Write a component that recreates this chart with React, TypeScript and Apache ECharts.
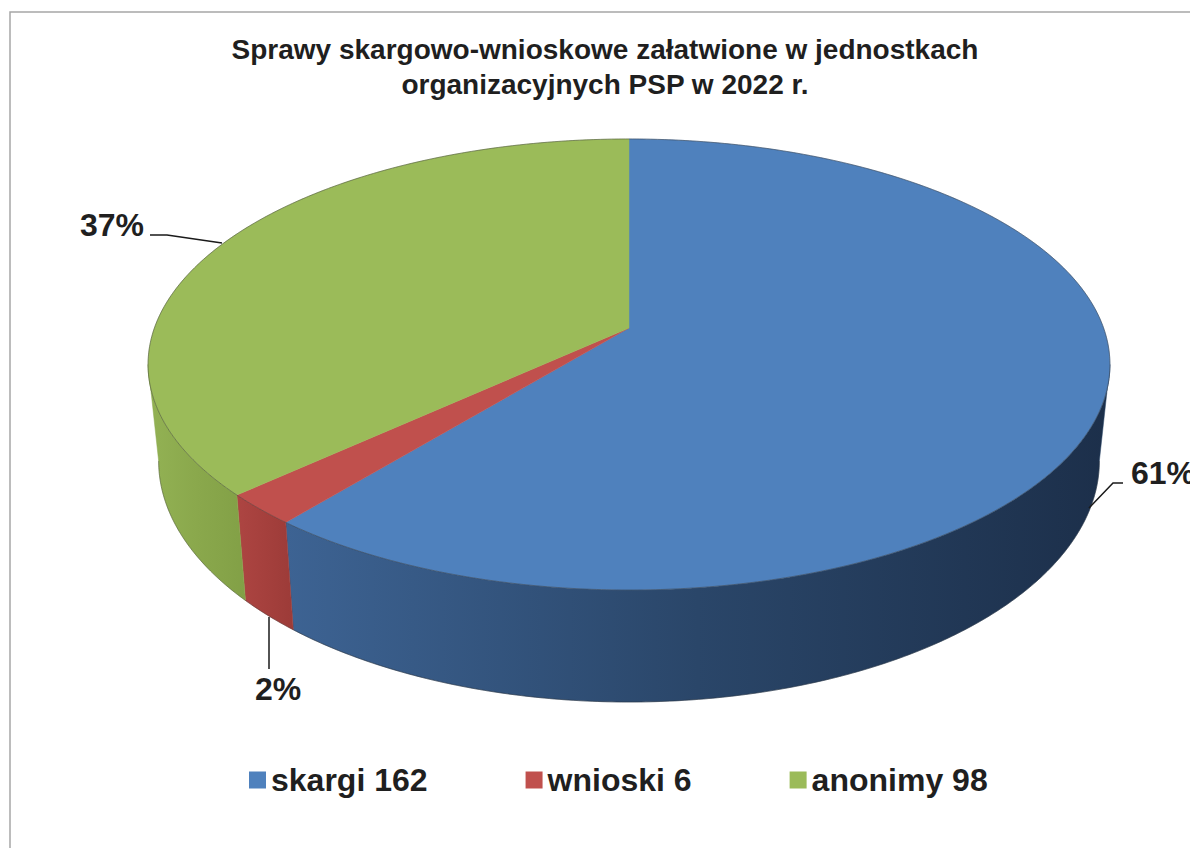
import React, { useEffect, useRef } from 'react';
import * as echarts from 'echarts';

// ---- data ----
const categories: string[] = ['skargi', 'wnioski', 'anonimy'];
const values: number[] = [162, 6, 98];
const titleLines: string[] = ['Sprawy skargowo-wnioskowe załatwione w jednostkach', 'organizacyjnych PSP w 2022 r.'];

// ---- styles ----
const topColors = ['#4f81bd', '#c0504d', '#9bbb59'];
const wallStops: [string, string, string][] = [
  ['#3d6393', '#2a4669', '#1c2f4a'],
  ['#ad4542', '#a5403d', '#9c3b38'],
  ['#93b254', '#8aa84c', '#82a046'],
];
const FONT = "'Liberation Sans', Arial, Helvetica, sans-serif";

// ---- 3D projection geometry (layout only) ----
const CX = 629, CY = 328, A = 474.6, B = 219.6, K = 0.1618, H = 93.9, BOT_SCALE = 0.978;
const SIL_R = (Math.acos(-K) * 180) / Math.PI; // ~99.3
const SIL_L = 360 - SIL_R; // ~260.7

// label placement (layout only)
const labelLayout = [
  { x: 1131, y: 473, line: [[1123, 483], [1113, 483], [1089, 508]] },
  { x: 255, y: 689, line: [[269, 617], [269, 669]] },
  { x: 80, y: 225, line: [[150, 235], [167, 235], [222, 243]] },
];

function proj(theta: number, down: boolean): number[] {
  const r = (theta * Math.PI) / 180;
  const u = Math.sin(r);
  const v = -Math.cos(r);
  const w = 1 - K * v;
  const sx = down ? BOT_SCALE : 1;
  return [CX + (A * sx * u) / w, CY + (B * v) / w + (down ? H / w : 0)];
}

function arc(a: number, b: number, down: boolean): number[][] {
  const n = Math.max(2, Math.ceil((b - a) / 0.5));
  const pts: number[][] = [];
  for (let i = 0; i <= n; i++) pts.push(proj(a + ((b - a) * i) / n, down));
  return pts;
}

export default function App() {
  const ref = useRef<HTMLDivElement>(null);
  useEffect(() => {
    if (!ref.current) return;
    const chart = echarts.init(ref.current, null, { renderer: 'svg' });
    const total = values.reduce((s, v) => s + v, 0);
    let acc = 0;
    const ranges = values.map((v) => {
      const s = (acc / total) * 360;
      acc += v;
      return [s, (acc / total) * 360];
    });

    const series = categories.map((c, i) => ({
      type: 'custom',
      name: `${c} ${values[i]}`,
      coordinateSystem: 'none',
      itemStyle: { color: topColors[i] },
      data: [ranges[i]],
      renderItem: (params: any, api: any) => {
        const s = api.value(0) as number;
        const e = api.value(1) as number;
        const children: any[] = [];
        const a = Math.max(s, SIL_R);
        const b = Math.min(e, SIL_L);
        if (b > a) {
          const top = arc(a, b, false);
          const bot = arc(a, b, true).reverse();
          const st = wallStops[i];
          children.push({
            type: 'polygon',
            z2: 1,
            shape: { points: top.concat(bot) },
            style: {
              fill: {
                type: 'linear', x: 0, y: 0, x2: 1, y2: 0,
                colorStops: [
                  { offset: 0, color: st[0] },
                  { offset: 0.5, color: st[1] },
                  { offset: 1, color: st[2] },
                ],
              },
              stroke: st[1],
              lineWidth: 0.5,
            },
          });
          children.push({
            type: 'polyline',
            z2: 2,
            shape: { points: arc(a, b, true) },
            style: { stroke: 'rgba(40,40,40,0.35)', lineWidth: 1, fill: 'none' },
          });
        }
        children.push({
          type: 'polygon',
          z2: 5,
          shape: { points: [[CX, CY]].concat(arc(s, e, false)) },
          style: { fill: topColors[i], stroke: topColors[i], lineWidth: 0.5 },
        });
        children.push({
          type: 'polyline',
          z2: 6,
          shape: { points: arc(s, e, false) },
          style: { stroke: 'rgba(50,50,50,0.45)', lineWidth: 1, fill: 'none' },
        });
        return { type: 'group', children };
      },
    }));

    const graphics: any[] = [
      {
        type: 'rect',
        shape: { x: 10, y: 12, width: 1300, height: 1000 },
        style: { fill: 'none', stroke: '#a6a6a6', lineWidth: 1.5 },
        silent: true,
      },
      ...titleLines.map((t, k) => ({
        type: 'text',
        x: 605,
        y: 49 + k * 35,
        style: {
          text: t,
          fontSize: 28,
          fontWeight: 'bold',
          fontFamily: FONT,
          fill: '#1f1f1f',
          textAlign: 'center',
          textVerticalAlign: 'middle',
        },
      })),
    ];
    values.forEach((v, i) => {
      const L = labelLayout[i];
      graphics.push({
        type: 'polyline',
        shape: { points: L.line },
        style: { stroke: '#1a1a1a', lineWidth: 1.5, fill: 'none' },
        z: 10,
      });
      graphics.push({
        type: 'text',
        x: L.x,
        y: L.y,
        z: 10,
        style: {
          text: `${Math.round((v / total) * 100)}%`,
          fontSize: 32,
          fontWeight: 'bold',
          fontFamily: FONT,
          fill: '#1f1f1f',
          textAlign: 'left',
          textVerticalAlign: 'middle',
        },
      });
    });

    chart.setOption({
      animation: false,
      backgroundColor: '#ffffff',
      legend: {
        left: 244,
        top: 759,
        icon: 'rect',
        itemWidth: 17,
        itemHeight: 17,
        itemGap: 98,
        selectedMode: false,
        textStyle: { fontSize: 32, fontWeight: 'bold', fontFamily: FONT, color: '#1f1f1f' },
        data: categories.map((c, i) => `${c} ${values[i]}`),
      },
      graphic: graphics,
      series,
    });
    return () => chart.dispose();
  }, []);
  return (
    <div
      ref={ref}
      style={{ position: 'absolute', left: 0, top: 0, width: 1190, height: 848, background: '#fff' }}
    />
  );
}
